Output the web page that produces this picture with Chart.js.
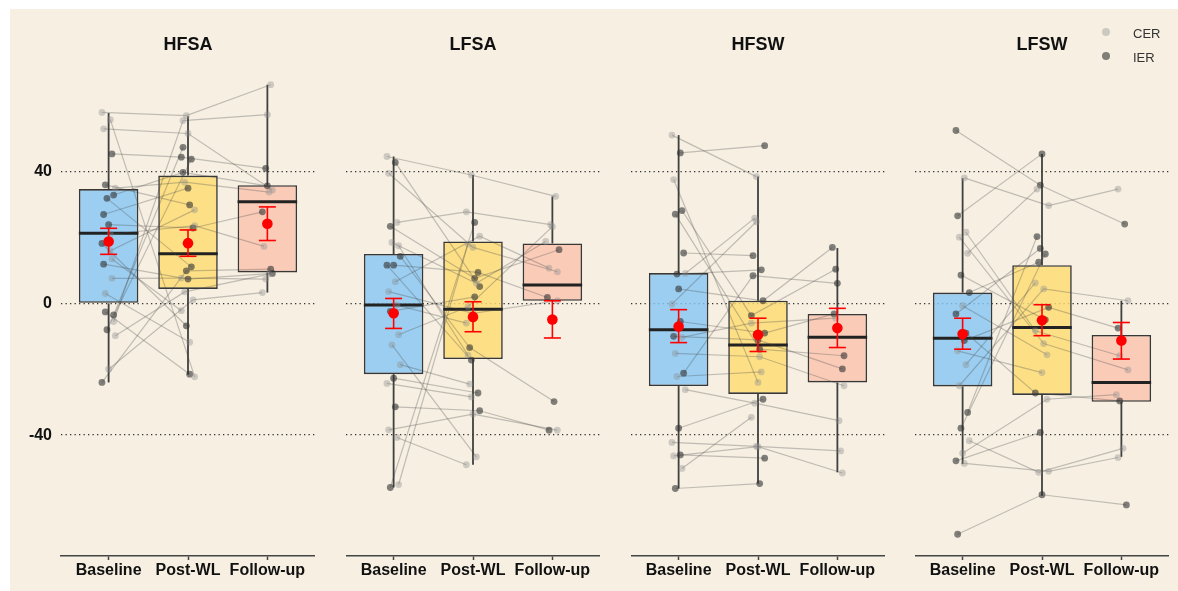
<!DOCTYPE html>
<html><head><meta charset="utf-8">
<script src="https://cdn.jsdelivr.net/npm/chart.js@4.4.1/dist/chart.umd.min.js"></script>
<style>
html,body{margin:0;padding:0;background:#fff;}
#wrap{position:relative;width:1178px;height:591px;overflow:hidden;}
#bg{position:absolute;left:10px;top:9px;right:0;bottom:0;background:#F6EFE2;}
canvas{position:absolute;top:0;}
.leg{position:absolute;font:13px "Liberation Sans",Arial,sans-serif;color:#333;line-height:16px;}
.dot{position:absolute;width:8px;height:8px;border-radius:50%;}
</style></head><body>
<div id="wrap"><div id="bg"></div>
<canvas id="c0" width="315" height="591" style="left:0px"></canvas>
<canvas id="c1" width="254" height="591" style="left:346px"></canvas>
<canvas id="c2" width="254" height="591" style="left:631px"></canvas>
<canvas id="c3" width="254" height="591" style="left:915px"></canvas>
<div class="dot" style="left:1102px;top:28px;background:rgba(140,140,140,0.38)"></div>
<div class="leg" style="left:1133px;top:26px">CER</div>
<div class="dot" style="left:1102px;top:52px;background:rgba(50,50,50,0.6)"></div>
<div class="leg" style="left:1133px;top:50px">IER</div>
</div>
<script>
const FONT = '"Liberation Sans", Arial, sans-serif';
const categories = ['Baseline', 'Post-WL', 'Follow-up'];
const panelNames = ['HFSA', 'LFSA', 'HFSW', 'LFSW'];
const yTicks = [-40, 0, 40];

// ---- individual subjects (C = CER, I = IER) ----
const hfsaBase   = [58.0, 55.8, 53.0, 45.4, 36.0, 32.9, 31.9, 35.0, 23.9, 18.2, 16.0, 11.9, 7.6, -2.6, -3.5, -8.0, -9.8, -20.0, -24.0, 21.0, 27.0, 13.5, 3.0, -5.5];
const hfsaPost   = [57.0, -22.3, 51.6, 44.4, 29.9, 39.8, 11.1, 36.8, 22.9, -6.8, 28.4, 7.4, 7.7, -21.5, 47.4, 43.8, 3.5, 1.1, 9.9, 23.6, 35.0, -2.2, -11.8, 55.5];
const hfsaFollow = [66.4, null, 34.4, 41.0, null, 35.7, null, 33.8, 27.8, null, null, 9.1, 7.4, null, null, null, 8.9, 3.3, 10.4, 17.3, null, null, null, 57.3];
const hfsaGroup  = ['C','C','C','I','I','I','I','C','I','I','C','I','C','I','I','I','C','C','I','C','I','C','C','C'];

const lfsaBase   = [44.6, 42.8, 39.5, 24.6, 23.4, 17.5, 18.5, 14.3, 11.6, 11.6, 6.6, 3.6, -0.5, -2.4, -9.5, -12.6, -18.6, -22.7, -24.3, -31.4, -38.4, -40.7, -55.9, -55.0];
const lfsaPost   = [39.0, 5.1, 17.0, 27.8, 7.6, -15.7, 6.1, -13.4, 9.4, -17.2, 20.4, -3.0, -6.0, 2.0, -1.0, -46.6, -24.5, -27.2, -28.4, -32.6, -33.6, -49.0, 24.6, 18.0];
const lfsaFollow = [32.5, null, 9.6, 23.9, 16.3, null, 18.8, -29.8, 1.8, null, 10.7, 0.8, null, null, 23.3, null, null, null, null, -38.5, -38.5, null, null, null];
const lfsaGroup  = ['C','I','C','C','I','C','C','I','I','I','C','C','C','I','C','C','C','I','C','I','C','C','I','C'];

const hfswBase   = [51.1, 45.7, 37.6, 28.2, 27.1, 15.3, 8.9, 9.1, 4.4, -0.2, -5.5, -10.0, -10.3, -15.2, -21.2, -22.2, -26.2, -37.9, -42.2, -46.0, -46.3, -50.1, -56.2];
const hfswPost   = [38.5, 47.9, -24.0, -3.7, -13.9, 14.5, 10.2, 25.9, 0.8, 24.8, -9.0, -11.1, -6.0, -16.2, 8.4, -20.8, -30.3, -29.1, -43.4, -47.0, -43.5, -34.6, -54.7];
const hfswFollow = [null, null, null, 10.4, -15.9, null, null, null, 17.0, null, -3.2, -19.9, -4.5, -25.0, 6.1, null, -35.6, null, -44.8, null, -51.5, null, null];
const hfswGroup  = ['C','I','C','I','I','I','I','C','I','C','I','I','C','C','I','C','C','I','C','I','C','C','I'];

const lfswBase   = [52.5, 38.1, 26.6, 21.6, 20.1, 15.2, 8.6, 3.3, -0.7, -3.2, -11.3, -14.4, -18.6, -25.0, -33.1, -37.9, -41.7, -45.5, -47.8, -48.6, -70.1, -9.0];
const lfswPost   = [35.9, 29.7, 45.4, -8.3, -12.2, 34.7, -5.0, 12.5, -15.6, 16.7, -1.2, -21.0, 6.2, 4.4, 20.3, 15.0, -51.3, -29.1, -39.2, -51.0, -58.1, -27.2];
const lfswFollow = [24.1, 34.7, null, -15.9, -20.2, null, null, null, null, null, -7.5, null, null, 0.8, null, null, -44.0, -27.7, null, -46.8, -61.2, -29.6];
const lfswGroup  = ['I','C','I','C','C','C','I','I','C','I','I','C','C','C','I','I','C','C','I','C','I','I'];

// ---- box statistics per category (Baseline, Post-WL, Follow-up) ----
const hfsaQ1 = [0.0, 4.4, 9.4],      hfsaMedian = [21.3, 15.1, 30.9],   hfsaQ3 = [34.7, 38.8, 35.9];
const hfsaWhiskLow = [-24.0, -21.7, 3.3], hfsaWhiskHigh = [57.8, 56.8, 66.4];
const hfsaMean = [18.8, 18.3, 24.2], hfsaMeanLow = [14.9, 14.3, 19.1], hfsaMeanHigh = [22.8, 22.3, 29.3];

const lfsaQ1 = [-21.5, -16.9, 0.8],  lfsaMedian = [-0.5, -1.8, 5.6],    lfsaQ3 = [15.0, 18.8, 18.2];
const lfsaWhiskLow = [-55.9, -49.0, 0.8], lfsaWhiskHigh = [44.6, 39.0, 32.5];
const lfsaMean = [-3.0, -4.1, -4.9], lfsaMeanLow = [-7.6, -8.6, -10.5], lfsaMeanHigh = [1.5, 0.5, 0.8];

const hfswQ1 = [-25.1, -27.5, -24.0], hfswMedian = [-8.0, -12.6, -10.3], hfswQ3 = [9.2, 0.8, -3.2];
const hfswWhiskLow = [-56.2, -54.7, -51.3], hfswWhiskHigh = [51.1, 38.5, 16.8];
const hfswMean = [-7.0, -9.5, -7.5], hfswMeanLow = [-11.9, -14.6, -13.4], hfswMeanHigh = [-1.9, -4.5, -1.5];

const lfswQ1 = [-25.2, -27.8, -29.9], lfswMedian = [-10.6, -7.3, -24.0], lfswQ3 = [3.3, 11.6, -9.6];
const lfswWhiskLow = [-48.8, -58.4, -46.6], lfswWhiskHigh = [38.0, 45.4, 0.8];
const lfswMean = [-9.3, -5.1, -11.3], lfswMeanLow = [-13.9, -9.8, -16.9], lfswMeanHigh = [-4.5, -0.4, -5.8];

// ---- tables built from the arrays above ----
const subjects = [
  {base: hfsaBase, post: hfsaPost, follow: hfsaFollow, group: hfsaGroup},
  {base: lfsaBase, post: lfsaPost, follow: lfsaFollow, group: lfsaGroup},
  {base: hfswBase, post: hfswPost, follow: hfswFollow, group: hfswGroup},
  {base: lfswBase, post: lfswPost, follow: lfswFollow, group: lfswGroup}
];
const stats = [
  {q1: hfsaQ1, med: hfsaMedian, q3: hfsaQ3, lo: hfsaWhiskLow, hi: hfsaWhiskHigh, mean: hfsaMean, mlo: hfsaMeanLow, mhi: hfsaMeanHigh},
  {q1: lfsaQ1, med: lfsaMedian, q3: lfsaQ3, lo: lfsaWhiskLow, hi: lfsaWhiskHigh, mean: lfsaMean, mlo: lfsaMeanLow, mhi: lfsaMeanHigh},
  {q1: hfswQ1, med: hfswMedian, q3: hfswQ3, lo: hfswWhiskLow, hi: hfswWhiskHigh, mean: hfswMean, mlo: hfswMeanLow, mhi: hfswMeanHigh},
  {q1: lfswQ1, med: lfswMedian, q3: lfswQ3, lo: lfswWhiskLow, hi: lfswWhiskHigh, mean: lfswMean, mlo: lfswMeanLow, mhi: lfswMeanHigh}
];

const boxFill = ['rgba(132,197,244,0.8)', 'rgba(255,220,111,0.8)', 'rgba(251,195,174,0.8)'];
const BOX_W = 0.75;

// small horizontal spread so overlapping points stay visible (style only)
function jitter(i, t) { return (((i * 5 + t * 3) % 9) - 4) * 0.021; }

function buildChart(k, canvasId, yWidth) {
  const s = subjects[k], st = stats[k];
  const ds = [];
  for (let c = 0; c < 3; c++) {
    ds.push({type: 'line', data: [{x: c, y: st.lo[c]}, {x: c, y: st.q1[c]}], borderColor: '#404040', borderWidth: 1.8, pointRadius: 0, order: 100});
    ds.push({type: 'line', data: [{x: c, y: st.q3[c]}, {x: c, y: st.hi[c]}], borderColor: '#404040', borderWidth: 1.8, pointRadius: 0, order: 100});
  }
  ds.push({type: 'bar', data: [0, 1, 2].map(c => ({x: c, y: [st.q1[c], st.q3[c]]})),
    backgroundColor: boxFill, borderColor: '#383838', borderWidth: 1.6, borderSkipped: false,
    barPercentage: BOX_W, categoryPercentage: 1, order: 90});
  for (let c = 0; c < 3; c++) {
    ds.push({type: 'line', data: [{x: c - BOX_W / 2, y: st.med[c]}, {x: c + BOX_W / 2, y: st.med[c]}], borderColor: '#222', borderWidth: 3, pointRadius: 0, order: 80});
  }
  s.base.forEach((b, i) => {
    const vals = [b, s.post[i], s.follow[i]];
    ds.push({type: 'line', data: vals.map((v, t) => ({x: t + jitter(i, t), y: v})),
      borderColor: 'rgba(70,70,70,0.3)', borderWidth: 1.2, pointRadius: 0, spanGaps: false, order: 50});
  });
  ['C', 'I'].forEach(g => {
    const pts = [];
    s.base.forEach((b, i) => {
      if (s.group[i] !== g) return;
      [b, s.post[i], s.follow[i]].forEach((v, t) => { if (v !== null) pts.push({x: t + jitter(i, t), y: v}); });
    });
    ds.push({type: 'scatter', data: pts, pointRadius: 3.4, borderWidth: 0,
      backgroundColor: g === 'C' ? 'rgba(140,140,140,0.38)' : 'rgba(50,50,50,0.6)', order: 30});
  });
  for (let c = 0; c < 3; c++) {
    ds.push({type: 'line', data: [{x: c, y: st.mlo[c]}, {x: c, y: st.mhi[c]}], borderColor: '#FF0000', borderWidth: 1.6,
      pointStyle: 'line', pointRadius: 8.5, pointBorderColor: '#FF0000', pointBorderWidth: 1.6, order: 20});
  }
  ds.push({type: 'scatter', data: [0, 1, 2].map(c => ({x: c, y: st.mean[c]})), pointRadius: 5.3, borderWidth: 0, backgroundColor: '#FF0000', order: 10});

  new Chart(document.getElementById(canvasId), {
    type: 'scatter',
    data: {datasets: ds},
    options: {
      responsive: false, animation: false, events: [],
      layout: {padding: 0, autoPadding: false},
      plugins: {
        legend: {display: false}, tooltip: {enabled: false},
        title: {display: true, text: panelNames[k], fullSize: false, color: '#111',
          font: {family: FONT, size: 18, weight: 'bold'}, padding: {top: 34, bottom: 6.4}}
      },
      scales: {
        x: {type: 'linear', min: -0.6, max: 2.6, offset: false, bounds: 'data',
          afterBuildTicks: sc => { sc.ticks = [0, 1, 2].map(v => ({value: v})); },
          afterFit: sc => { sc.height = 35; },
          ticks: {callback: v => categories[v], autoSkip: false, maxRotation: 0, color: '#111',
            font: {family: FONT, size: 16, weight: 'bold'}, padding: 1},
          grid: {display: true, offset: false, drawOnChartArea: false, drawTicks: true, tickLength: 4, tickColor: '#444', tickWidth: 1.5},
          border: {display: true, color: '#444', width: 1.5}
        },
        y: {type: 'linear', min: -76.7, max: 73.3, bounds: 'data', beginAtZero: false,
          afterBuildTicks: sc => { sc.ticks = yTicks.map(v => ({value: v})); },
          afterFit: sc => { sc.width = yWidth; },
          ticks: {display: k === 0, padding: 9, color: '#111', font: {family: FONT, size: 16, weight: 'bold'}},
          grid: {color: '#333', lineWidth: 1.3, drawTicks: false, offset: false},
          border: {display: false, dash: [1.3, 3.2]}
        }
      }
    }
  });
}

buildChart(0, 'c0', 61);
buildChart(1, 'c1', 0);
buildChart(2, 'c2', 0);
buildChart(3, 'c3', 0);
</script>
</body></html>
